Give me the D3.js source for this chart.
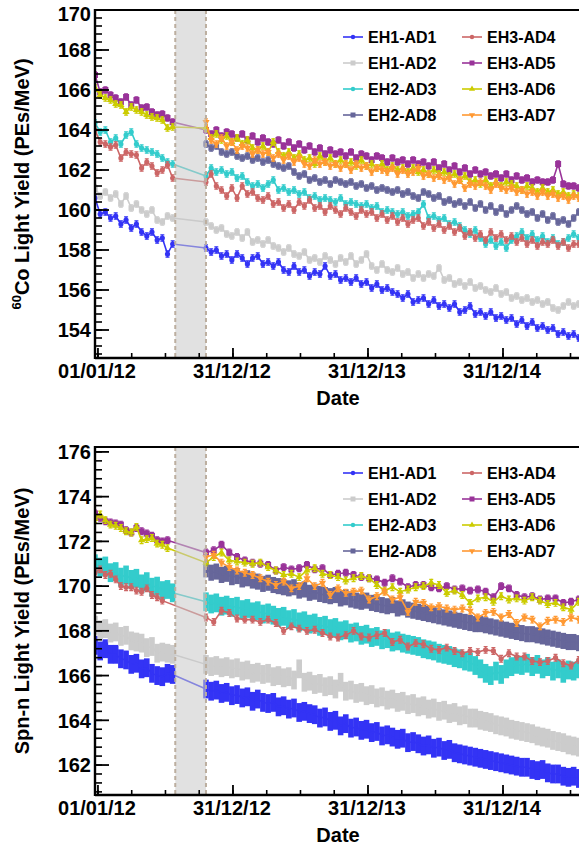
<!DOCTYPE html>
<html><head><meta charset="utf-8">
<script src="https://cdn.jsdelivr.net/npm/d3@7"></script>
<style>
body{margin:0;background:#fff}
svg text{font-family:"Liberation Sans",Arial,Helvetica,sans-serif;font-weight:bold;fill:#000}
</style>
</head><body>
<svg id="chart" width="579" height="848"></svg>
<script>
// ---------- sampling of the read values ----------
const seg1Start = "2011-12-24";   // first run period
const seg2Start = "2012-10-19";   // after 8-AD installation
const stepDays = 14;              // biweekly readings
const sparseStepDays = 21;        // EH3 spn-n readings after installation
const gapStart = "2012-07-28", gapEnd = "2012-10-19";

const categories = ["EH1-AD1","EH1-AD2","EH2-AD3","EH2-AD8","EH3-AD4","EH3-AD5","EH3-AD6","EH3-AD7"];
const xTickLabels = ["01/01/12","31/12/12","31/12/13","31/12/14"];
const xTickDates = ["2012-01-01","2012-12-31","2013-12-31","2014-12-31"];
const coYTicks = [154,156,158,160,162,164,166,168,170];
const spnYTicks = [162,164,166,168,170,172,174,176];

// ---------- 60Co light yield ----------
const co_AD1_a = [160.6,159.8,159.9,159.6,159.7,159.3,159.5,159.1,159.3,158.9,158.7,158.9,158.5,158.6,157.8,158.3];
const co_AD1_b = [158.1,157.9,158.0,157.7,157.8,157.5,157.8,157.6,157.3,157.6,
157.7,157.3,157.4,157.2,157.4,157.0,156.9,157.2,156.9,157.0,
156.7,156.9,156.8,157.2,156.7,156.8,156.5,156.6,156.4,156.6,
156.3,156.4,156.1,156.3,156.0,156.1,155.9,155.8,155.6,155.8,
155.4,155.5,155.6,155.3,155.5,155.2,155.3,155.1,155.3,154.9,
155.0,155.2,154.8,154.9,154.7,154.9,154.6,154.7,154.5,154.6,
154.3,154.5,154.2,154.4,154.1,154.2,154.0,154.1,153.8,153.9,
153.7,153.8,153.6];
const co_AD2_a = [161.1,160.7,160.9,160.6,160.8,160.3,160.7,160.1,160.3,160.0,159.8,160.0,159.5,159.4,159.7,159.6];
const co_AD2_b = [159.4,159.2,159.0,159.1,158.8,158.7,158.9,158.6,158.9,158.4,
158.5,158.3,158.5,158.2,158.1,157.9,158.1,157.8,157.7,157.9,
157.5,157.6,157.4,157.7,157.5,157.3,157.6,157.4,157.7,157.3,
157.5,157.8,157.2,157.0,157.3,157.0,156.9,157.1,156.8,156.9,
156.6,156.8,156.6,156.8,156.7,157.1,156.5,156.6,156.3,156.4,
156.2,156.4,156.1,156.2,156.0,155.9,156.1,155.8,155.9,155.6,
155.7,155.5,155.6,155.4,155.5,155.3,155.4,155.1,155.0,155.2,
155.4,155.2,155.3];
const co_AD3_a = [164.35,163.9,164.0,163.4,163.6,163.3,163.75,163.9,163.3,163.1,163.0,162.9,162.8,162.6,162.4,162.3];
const co_AD3_b = [161.7,162.1,161.9,162.0,161.8,161.9,161.6,161.7,161.4,161.2,
161.3,161.1,161.3,161.5,161.0,161.1,160.9,161.0,160.8,160.9,
160.6,160.7,160.5,160.6,160.5,160.4,160.6,160.3,160.4,160.3,
160.2,160.3,160.1,160.2,159.9,160.0,159.9,159.8,159.9,159.7,
159.8,159.9,160.3,159.6,159.7,159.5,159.6,159.3,159.4,159.2,
159.0,158.8,159.0,158.6,158.3,158.5,158.2,158.4,158.1,158.5,
158.7,158.9,158.6,158.8,158.5,158.7,158.4,158.6,158.3,158.4,
158.6,158.8,158.6];
const co_AD8_a = [];
const co_AD8_b = [163.3,163.1,163.2,162.9,162.8,162.9,162.7,162.6,162.7,162.5,
162.6,162.4,162.5,162.3,162.2,162.1,162.2,161.9,161.7,161.8,
161.5,161.6,161.4,161.5,161.3,161.5,161.4,161.3,161.4,161.2,
161.3,161.1,161.2,161.0,161.1,161.0,160.9,161.0,160.8,160.9,
160.7,160.6,160.9,160.8,160.6,160.7,160.4,160.5,160.3,160.4,
160.2,160.4,160.1,160.3,160.0,160.2,159.9,160.1,159.8,160.0,
160.2,160.0,159.8,159.9,159.6,159.8,159.5,159.7,159.4,159.5,
159.3,159.6,159.9];
const co_AD4_a = [164.0,163.4,163.3,163.15,163.25,162.6,162.9,162.8,162.75,162.1,162.4,162.2,161.85,162.0,162.25,161.6];
const co_AD4_b = [161.4,161.8,161.2,161.0,160.7,161.1,160.6,161.2,160.8,160.9,
160.6,160.5,160.7,160.3,160.4,160.1,160.3,160.0,160.4,160.2,
160.5,160.1,160.2,159.9,160.2,160.0,159.8,160.1,159.9,159.7,
160.0,159.8,159.9,159.6,159.8,159.5,159.7,159.4,159.6,159.3,
159.5,159.6,159.2,159.4,159.1,159.3,159.0,159.2,158.9,159.1,
158.7,158.9,158.6,158.8,158.5,158.9,158.6,158.8,158.5,158.7,
158.4,158.6,158.3,158.5,158.2,158.4,158.3,158.5,158.2,158.4,
158.1,158.3,158.3];
const co_AD5_a = [166.75,165.9,166.0,165.75,165.6,165.4,165.65,165.25,165.5,165.1,165.15,164.9,164.75,164.8,164.6,164.4];
const co_AD5_b = [164.0,163.8,164.0,163.7,163.9,163.8,163.6,163.8,163.5,163.7,
163.4,163.6,163.4,163.3,163.5,163.2,163.4,163.1,163.3,163.0,
163.2,162.9,163.1,162.8,163.0,162.8,162.9,162.7,162.9,162.6,
162.8,162.7,162.5,162.7,162.6,162.4,162.6,162.4,162.5,162.3,
162.5,162.3,162.4,162.2,162.4,162.1,162.3,162.0,162.2,161.9,
162.1,161.8,162.0,161.8,161.9,161.7,161.8,161.6,161.8,161.5,
161.7,161.5,161.6,161.4,161.5,161.4,161.4,161.5,162.3,161.3,
161.2,161.2,161.1];
const co_AD6_a = [166.1,165.75,165.6,165.5,165.3,165.25,164.9,165.15,165.0,164.9,164.75,164.65,164.6,164.5,164.1,164.15];
const co_AD6_b = [164.1,163.6,163.8,163.5,163.7,163.4,163.6,163.3,163.5,163.1,
163.0,163.2,162.9,163.4,162.9,162.7,162.9,162.6,162.8,162.5,
162.6,162.3,162.7,162.4,162.6,162.3,162.5,162.3,162.4,162.2,
162.5,162.2,162.3,162.1,162.3,162.0,162.2,162.0,162.1,161.9,
162.1,161.9,162.0,161.8,162.0,161.8,161.9,161.7,161.8,161.5,
161.7,161.4,161.5,161.3,161.5,161.2,161.4,161.2,161.4,161.3,
161.2,161.0,161.2,161.1,160.9,161.1,160.9,161.0,160.8,160.9,
160.7,160.8,160.7];
const co_AD7_a = [];
const co_AD7_b = [164.4,163.5,163.3,163.6,163.2,163.4,163.0,163.2,163.1,162.8,
163.0,162.8,162.9,162.6,162.8,162.5,162.7,162.4,162.6,162.3,
162.2,162.5,162.3,162.4,162.2,162.3,162.1,162.3,162.0,162.3,
162.1,162.2,161.9,162.1,162.0,161.9,162.1,161.8,162.0,161.8,
161.9,162.1,161.7,161.8,161.6,161.7,161.5,161.6,161.3,161.5,
161.1,161.3,161.2,161.4,161.2,161.0,161.3,161.1,161.0,161.1,
160.9,161.0,160.8,160.9,160.7,160.9,160.7,160.8,160.6,160.7,
160.5,160.7,160.6];

// ---------- Spallation-neutron light yield ----------
const spn_AD1_a = [167.35,167.1,167.2,166.95,166.95,166.75,166.7,166.5,166.55,166.3,166.35,166.1,166.0,165.95,166.1,166.05];
const spn_AD1_b = [165.4,165.3,165.35,165.2,165.25,165.1,165.15,165.0,165.05,164.85,
164.95,164.8,164.75,164.8,164.6,164.65,164.5,164.55,164.35,164.4,
164.3,164.25,164.1,164.15,163.95,164.0,163.75,163.85,163.65,163.7,
163.55,163.6,163.45,163.5,163.3,163.35,163.25,163.15,163.2,163.0,
163.05,162.95,162.85,162.9,162.75,162.8,162.65,162.7,162.55,162.5,
162.45,162.4,162.35,162.3,162.25,162.2,162.15,162.1,162.05,162.0,
161.95,161.9,161.9,161.8,161.75,161.8,161.65,161.6,161.6,161.5,
161.45,161.5,161.4];
const spn_AD2_a = [168.25,168.05,168.1,167.9,167.95,167.75,167.8,167.55,167.5,167.45,167.25,167.3,167.0,167.05,167.0,166.95];
const spn_AD2_b = [166.5,166.4,166.45,166.35,166.4,166.3,166.35,166.2,166.25,166.1,
166.15,166.05,166.1,165.95,166.0,165.9,165.95,165.8,166.3,165.7,
165.75,165.6,165.65,165.5,165.55,165.4,165.7,165.3,165.35,165.2,
165.25,165.1,165.15,165.0,165.05,164.9,164.95,164.8,164.85,164.7,
164.75,164.6,164.65,164.5,164.55,164.4,164.45,164.3,164.35,164.2,
164.25,164.1,164.1,164.0,163.95,163.9,163.8,163.75,163.7,163.6,
163.55,163.5,163.45,163.4,163.3,163.25,163.2,163.1,163.05,163.0,
162.9,162.85,162.8];
const spn_AD3_a = [171.0,170.85,170.9,170.6,170.65,170.4,170.5,170.3,170.35,170.1,170.2,169.95,170.0,169.8,169.85,169.7];
const spn_AD3_b = [169.3,169.2,169.25,169.1,169.15,169.05,169.1,168.95,169.0,168.85,
168.9,168.75,168.8,168.7,168.6,168.65,168.5,168.55,168.4,168.45,
168.3,168.35,168.2,168.25,168.1,168.15,168.0,168.05,167.9,167.95,
167.8,167.85,167.7,167.75,167.6,167.65,167.5,167.55,167.45,167.4,
167.35,167.3,167.2,167.15,167.1,167.0,166.95,166.9,166.8,166.75,
166.65,166.6,166.45,166.3,166.1,166.0,166.2,166.05,166.3,166.4,
166.5,166.45,166.55,166.4,166.5,166.3,166.4,166.2,166.3,166.1,
166.25,166.2,166.3];
const spn_AD8_a = [];
const spn_AD8_b = [170.75,170.6,170.65,170.5,170.55,170.4,170.45,170.3,170.35,170.25,
170.2,170.1,170.15,170.05,170.0,169.95,169.9,169.95,169.8,169.85,
169.7,169.75,169.65,169.6,169.55,169.6,169.45,169.5,169.4,169.35,
169.3,169.35,169.25,169.2,169.15,169.1,169.15,169.0,169.05,168.95,
168.9,168.85,168.8,168.75,168.7,168.65,168.6,168.55,168.5,168.45,
168.4,168.35,168.3,168.3,168.25,168.2,168.15,168.1,168.05,168.0,
167.95,167.9,167.85,167.85,167.8,167.75,167.7,167.65,167.6,167.55,
167.5,167.5,167.45];
const spn_AD4_a = [170.6,170.75,170.5,170.55,170.3,170.0,169.95,169.95,169.8,169.75,169.9,169.6,169.5,169.35];
const spn_AD4_b = [168.6,168.4,168.9,168.8,168.55,168.5,168.5,168.4,168.5,168.35,
168.0,168.2,168.1,168.0,168.05,167.9,167.75,167.7,167.8,168.0,
167.75,167.7,167.8,167.9,167.5,167.6,167.3,167.45,167.4,167.2,
167.15,167.25,167.1,167.0,167.1,167.05,167.15,167.1,166.75,167.0,
166.85,166.85,166.65,166.6,166.65,166.8,166.55,166.45,166.7];
const spn_AD5_a = [173.25,173.05,172.9,172.85,172.8,172.75,172.5,172.4,172.6,172.45,172.35,172.25,172.05,172.0,172.05];
const spn_AD5_b = [171.5,171.6,171.85,171.5,171.3,171.15,171.05,171.0,170.95,170.7,
170.85,170.75,170.8,170.95,170.75,170.8,170.5,170.55,170.6,170.5,
170.4,170.35,170.3,170.15,170.35,170.2,169.95,170.05,170.05,169.95,
169.9,170.0,169.85,169.9,169.8,169.85,169.75,169.5,170.0,169.9,
169.6,169.5,169.55,169.4,169.45,169.45,169.25,169.3,169.4];
const spn_AD6_a = [173.0,173.2,172.95,172.75,172.7,172.6,172.45,172.4,172.65,172.05,172.1,172.15,171.9,171.85,171.7];
const spn_AD6_b = [171.05,171.3,171.5,171.15,171.1,171.05,171.0,171.05,170.85,170.7,
170.5,170.55,170.4,170.7,170.8,170.55,170.5,170.4,170.25,170.35,
170.45,170.35,170.05,169.8,169.95,169.75,169.85,169.95,170.0,170.15,
170.05,169.7,169.8,169.6,169.25,169.45,169.5,169.3,169.55,169.4,
169.45,169.35,169.5,169.35,169.2,169.25,169.05,168.95,169.3];
const spn_AD7_a = [];
const spn_AD7_b = [171.3,171.4,171.05,170.85,170.7,170.6,170.5,170.35,170.2,170.05,
170.2,169.9,170.0,170.35,170.0,170.15,169.6,169.9,169.7,169.75,
169.8,169.4,169.55,169.75,169.4,169.5,168.85,169.3,169.25,169.05,
169.1,169.0,168.95,169.0,168.9,168.6,168.8,168.85,168.6,168.75,
168.35,168.6,168.5,168.2,168.45,168.5,168.4,168.6,168.5];

// ---------- styles (kept apart from data) ----------
const styles = {
  "EH1-AD1": {color:"#3333f5", marker:"circle", size:2.6},
  "EH1-AD2": {color:"#cccccc", marker:"square", size:5.5},
  "EH2-AD3": {color:"#33cccc", marker:"circle", size:2.6},
  "EH2-AD8": {color:"#66669a", marker:"square", size:5.5},
  "EH3-AD4": {color:"#cc6666", marker:"circle", size:2.6},
  "EH3-AD5": {color:"#993399", marker:"square", size:6},
  "EH3-AD6": {color:"#cccc00", marker:"triangle", size:5},
  "EH3-AD7": {color:"#ff9933", marker:"triangleDown", size:5}
};

const parse = d3.utcParse("%Y-%m-%d");
const DAY = 864e5;
function dated(a, b, stepA, stepB){
  const s1 = parse(seg1Start).getTime(), s2 = parse(seg2Start).getTime();
  const out = [];
  a.forEach((v,i)=>out.push({date:new Date(s1+i*stepA*DAY), v}));
  b.forEach((v,i)=>out.push({date:new Date(s2+i*stepB*DAY), v}));
  return out;
}

const svg = d3.select("#chart");
const x = d3.scaleUtc().domain([parse("2011-12-24"), parse("2014-12-31")]).range([95, 503]);
const xLeft = 95, xRight = 581;

const panels = [
  {id:"co", top:10, bottom:358, domain:[152.6,170], ticks:coYTicks,
   title:"Co Light Yield (PEs/MeV)", sup:"60",
   legendY:[37,63,89,115],
   series:[
     {name:"EH1-AD1", a:co_AD1_a, b:co_AD1_b},
     {name:"EH1-AD2", a:co_AD2_a, b:co_AD2_b},
     {name:"EH2-AD3", a:co_AD3_a, b:co_AD3_b},
     {name:"EH2-AD8", a:co_AD8_a, b:co_AD8_b},
     {name:"EH3-AD4", a:co_AD4_a, b:co_AD4_b},
     {name:"EH3-AD5", a:co_AD5_a, b:co_AD5_b},
     {name:"EH3-AD6", a:co_AD6_a, b:co_AD6_b},
     {name:"EH3-AD7", a:co_AD7_a, b:co_AD7_b}
   ].map(s=>({...s, pts:dated(s.a,s.b,stepDays,stepDays), dense:false, err:0.16}))},
  {id:"spn", top:447, bottom:795, domain:[160.66,176.22], ticks:spnYTicks,
   title:"Spn-n Light Yield (PEs/MeV)", sup:null,
   legendY:[473,499,525,551],
   series:[
     {name:"EH1-AD1", a:spn_AD1_a, b:spn_AD1_b, dense:true, err:0.42},
     {name:"EH1-AD2", a:spn_AD2_a, b:spn_AD2_b, dense:true, err:0.42},
     {name:"EH2-AD3", a:spn_AD3_a, b:spn_AD3_b, dense:true, err:0.42},
     {name:"EH2-AD8", a:spn_AD8_a, b:spn_AD8_b, dense:true, err:0.36},
     {name:"EH3-AD4", a:spn_AD4_a, b:spn_AD4_b, dense:false, err:0.15},
     {name:"EH3-AD5", a:spn_AD5_a, b:spn_AD5_b, dense:false, err:0.15},
     {name:"EH3-AD6", a:spn_AD6_a, b:spn_AD6_b, dense:false, err:0.15},
     {name:"EH3-AD7", a:spn_AD7_a, b:spn_AD7_b, dense:false, err:0.15}
   ].map(s=>({...s, pts:dated(s.a,s.b,stepDays, s.dense?stepDays:sparseStepDays)}))}
];

function markerPath(type, size){
  if(type==="circle") return d3.symbol(d3.symbolCircle, Math.PI*size*size)();
  if(type==="square") return d3.symbol(d3.symbolSquare, size*size)();
  if(type==="triangle") return d3.symbol(d3.symbolTriangle, size*size*0.9)();
  if(type==="triangleDown") return d3.symbol(d3.symbolTriangle, size*size*0.9)();
  return "";
}

panels.forEach((p,pi)=>{
  const y = d3.scaleLinear().domain(p.domain).range([p.bottom, p.top]);
  const g = svg.append("g");
  const clipId = "clip"+pi;
  svg.append("clipPath").attr("id",clipId).append("rect")
    .attr("x",xLeft).attr("y",p.top).attr("width",xRight-xLeft).attr("height",p.bottom-p.top);
  const plot = g.append("g").attr("clip-path",`url(#${clipId})`);

  const line = d3.line().x(d=>x(d.date)).y(d=>y(d.v));
  p.series.forEach(s=>{
    const st = styles[s.name];
    const sg = plot.append("g");
    if(s.dense){
      sg.selectAll("rect").data(s.pts).join("rect")
        .attr("x",d=>x(d.date)-2.8).attr("width",5.6)
        .attr("y",d=>y(d.v+s.err)).attr("height",d=>y(d.v-s.err)-y(d.v+s.err))
        .attr("fill",st.color);
      sg.append("path").attr("d",line(s.pts)).attr("fill","none")
        .attr("stroke",st.color).attr("stroke-width",1.5);
    } else {
      sg.append("path").attr("d",line(s.pts)).attr("fill","none")
        .attr("stroke",st.color).attr("stroke-width",1.6);
      sg.selectAll("line.err").data(s.pts).join("line").attr("class","err")
        .attr("x1",d=>x(d.date)).attr("x2",d=>x(d.date))
        .attr("y1",d=>y(d.v-s.err)).attr("y2",d=>y(d.v+s.err))
        .attr("stroke",st.color).attr("stroke-width",1.4);
      sg.selectAll("path.cap").data(s.pts).join("path").attr("class","cap")
        .attr("d",d=>{const cx=x(d.date),a=y(d.v-s.err),b=y(d.v+s.err);
          return `M${cx-2},${a}H${cx+2}M${cx-2},${b}H${cx+2}`;})
        .attr("stroke",st.color).attr("stroke-width",1.2);
      sg.selectAll("path.mk").data(s.pts).join("path").attr("class","mk")
        .attr("d",markerPath(st.marker, st.size))
        .attr("transform",d=>`translate(${x(d.date)},${y(d.v)})${st.marker==="triangleDown"?" rotate(180)":""}`)
        .attr("fill",st.color);
    }
  });

  // shaded installation period (drawn over the curves, translucent)
  const gx0 = x(parse(gapStart)), gx1 = x(parse(gapEnd));
  g.append("rect").attr("x",gx0).attr("y",p.top).attr("width",gx1-gx0).attr("height",p.bottom-p.top)
    .attr("fill","#c8c8c8").attr("fill-opacity",0.55);
  [gx0,gx1].forEach(gxv=>g.append("line").attr("x1",gxv).attr("x2",gxv).attr("y1",p.top).attr("y2",p.bottom)
    .attr("stroke","#bcae9f").attr("stroke-width",2).attr("stroke-dasharray","4,3"));

  // frame
  g.append("line").attr("x1",xLeft).attr("x2",xRight).attr("y1",p.top).attr("y2",p.top)
    .attr("stroke","#000").attr("stroke-width",2);
  g.append("line").attr("x1",xLeft).attr("x2",xRight).attr("y1",p.bottom).attr("y2",p.bottom)
    .attr("stroke","#000").attr("stroke-width",2.4);
  g.append("line").attr("x1",xLeft).attr("x2",xLeft).attr("y1",p.top-1).attr("y2",p.bottom+1)
    .attr("stroke","#000").attr("stroke-width",2.4);

  // y ticks: majors every 2, minors every 0.4
  const minors = d3.range(Math.ceil(p.domain[0]/0.4)*0.4, p.domain[1]+1e-6, 0.4);
  g.selectAll("line.ymin").data(minors).join("line").attr("class","ymin")
    .attr("x1",xLeft).attr("x2",xLeft+7).attr("y1",d=>y(d)).attr("y2",d=>y(d))
    .attr("stroke","#000").attr("stroke-width",1.6);
  g.selectAll("line.ymaj").data(p.ticks).join("line").attr("class","ymaj")
    .attr("x1",xLeft).attr("x2",xLeft+14).attr("y1",d=>y(d)).attr("y2",d=>y(d))
    .attr("stroke","#000").attr("stroke-width",1.8);
  g.selectAll("text.ylab").data(p.ticks).join("text").attr("class","ylab")
    .attr("x",91).attr("y",d=>Math.max(y(d),13.5)).attr("dy","0.36em")
    .attr("text-anchor","end").attr("font-size",20).text(d=>d);

  // x ticks: quarter-year minors, yearly majors
  const t0 = parse("2012-01-01").getTime();
  const qs = d3.range(0, 15).map(k=>new Date(t0 + k*91.25*DAY)).filter(d=>x(d)<=xRight);
  g.selectAll("line.xmin").data(qs).join("line").attr("class","xmin")
    .attr("x1",d=>x(d)).attr("x2",d=>x(d)).attr("y1",p.bottom).attr("y2",p.bottom-5)
    .attr("stroke","#000").attr("stroke-width",1.6);
  const majors = xTickDates.map(parse);
  g.selectAll("line.xmaj").data(majors).join("line").attr("class","xmaj")
    .attr("x1",d=>x(d)).attr("x2",d=>x(d)).attr("y1",p.bottom).attr("y2",p.bottom-10)
    .attr("stroke","#000").attr("stroke-width",1.8);
  g.selectAll("text.xlab").data(majors).join("text").attr("class","xlab")
    .attr("x",d=>x(d)-1).attr("y",p.bottom+20).attr("text-anchor","middle")
    .attr("font-size",20).text((d,i)=>xTickLabels[i]);
  g.append("text").attr("x",338).attr("y",p.bottom+47).attr("text-anchor","middle")
    .attr("font-size",20).text("Date");

  // y title
  const yt = g.append("text").attr("transform",`translate(29,${(p.top+p.bottom)/2}) rotate(-90)`)
    .attr("text-anchor","middle").attr("font-size",20);
  if(p.sup){ yt.append("tspan").attr("font-size",13).attr("dy",-8).text(p.sup);
             yt.append("tspan").attr("dy",8).text(p.title); }
  else yt.text(p.title);

  // legend (column-major, 2 columns)
  const lg = g.append("g");
  categories.forEach((name,i)=>{
    const st = styles[name];
    const col = Math.floor(i/4), row = i%4;
    const lx = col===0 ? 343 : 462, ly = p.legendY[row];
    lg.append("line").attr("x1",lx).attr("x2",lx+20).attr("y1",ly).attr("y2",ly)
      .attr("stroke",st.color).attr("stroke-width",1.6);
    lg.append("path").attr("d",markerPath(st.marker, st.marker==="square"?5:st.size*0.85))
      .attr("transform",`translate(${lx+10},${ly})${st.marker==="triangleDown"?" rotate(180)":""}`)
      .attr("fill",st.color);
    lg.append("text").attr("x",lx+25).attr("y",ly).attr("dy","0.36em")
      .attr("font-size",16).text(name);
  });
});
</script>
</body></html>
